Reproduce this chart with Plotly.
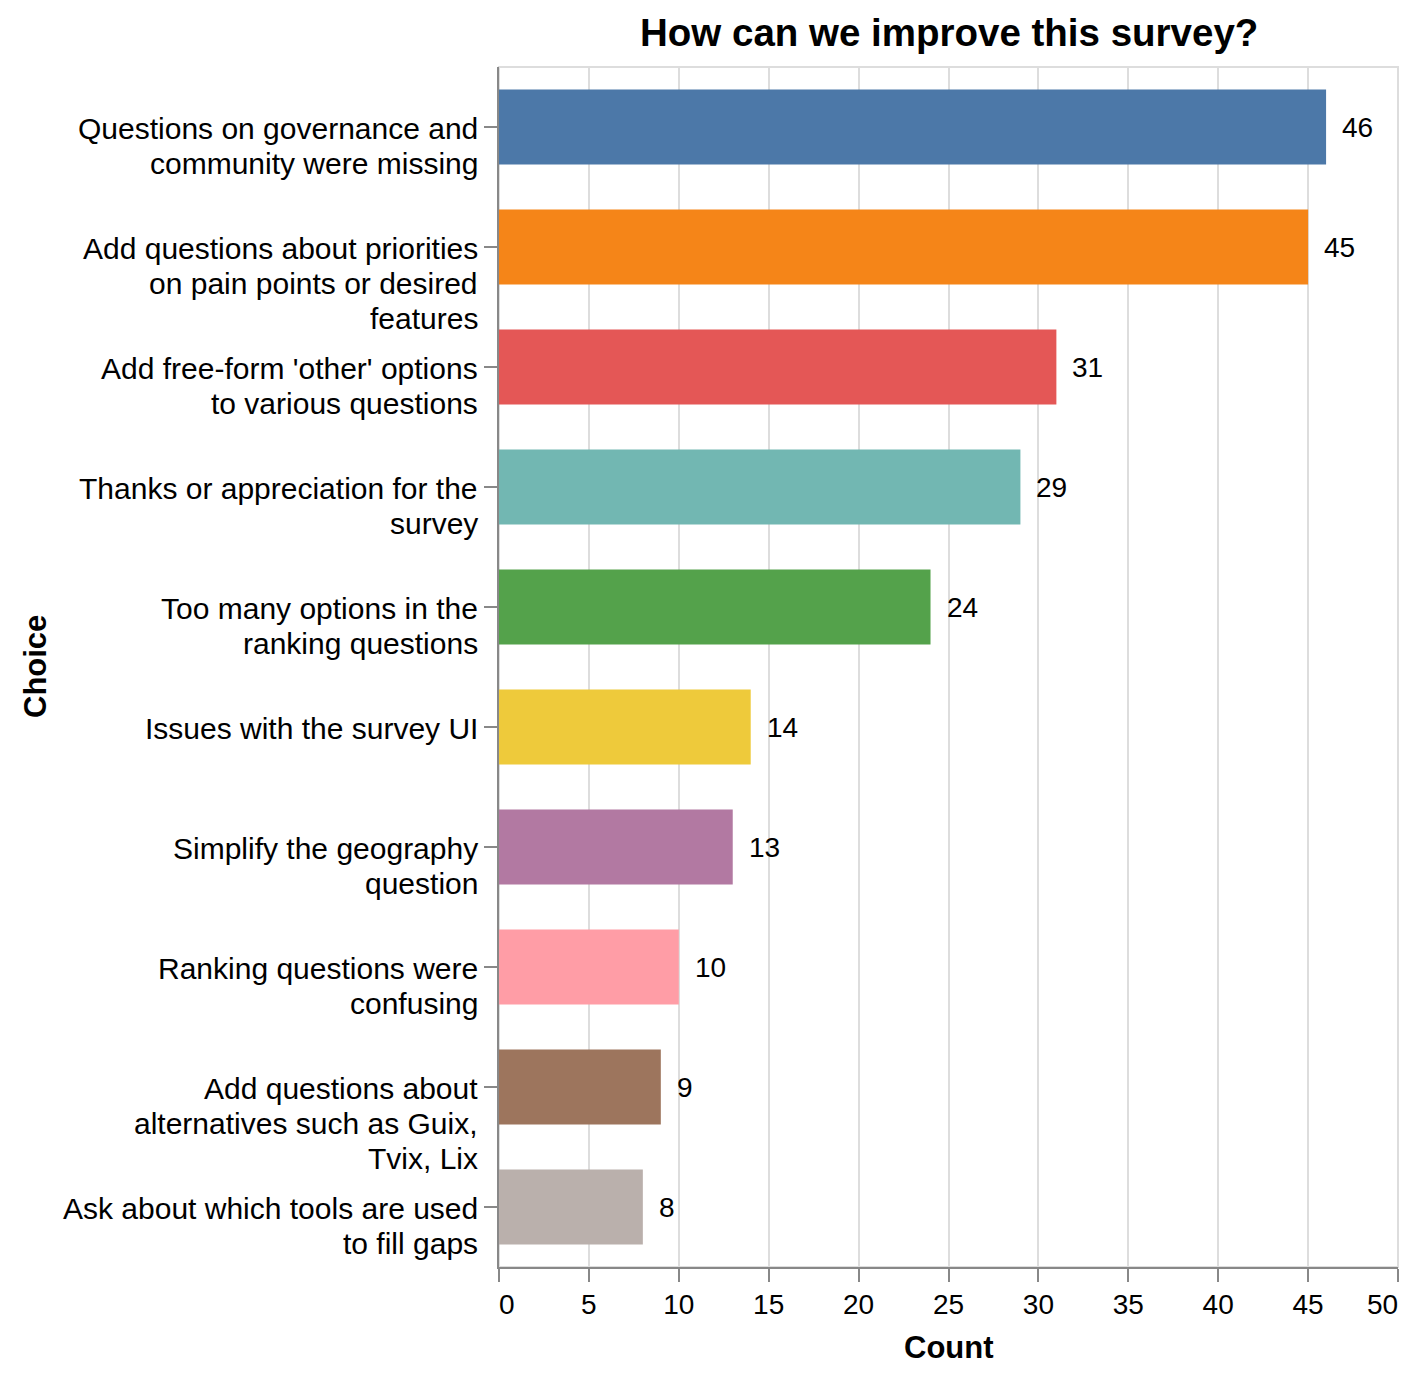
import plotly.graph_objects as go

choices = [
    "Questions on governance and<br>community were missing",
    "Add questions about priorities<br>on pain points or desired<br>features",
    "Add free-form 'other' options<br>to various questions",
    "Thanks or appreciation for the<br>survey",
    "Too many options in the<br>ranking questions",
    "Issues with the survey UI",
    "Simplify the geography<br>question",
    "Ranking questions were<br>confusing",
    "Add questions about<br>alternatives such as Guix,<br>Tvix, Lix",
    "Ask about which tools are used<br>to fill gaps",
]
counts = [46, 45, 31, 29, 24, 14, 13, 10, 9, 8]
colors = ["#4c78a8", "#f58518", "#e45756", "#72b7b2", "#54a24b",
          "#eeca3b", "#b279a2", "#ff9da6", "#9d755d", "#bab0ac"]
x_ticks = [0, 5, 10, 15, 20, 25, 30, 35, 40, 45, 50]

# page has an 8px body margin; figure coordinates are page coords - 8
W, H = 1408, 1369
L, R, T, B = 491, 18, 59, 110
FONT = "Liberation Sans, Arial, sans-serif"
PH = H - T - B
PW = W - L - R

fig = go.Figure()
fig.add_trace(go.Bar(
    x=counts, y=choices, orientation="h",
    marker=dict(color=colors, line=dict(width=0)),
    hoverinfo="x+y", showlegend=False,
))

annotations = []
# y tick labels: first line at tick, other lines below
for c in choices:
    lines = c.split("<br>")
    for i, ln in enumerate(lines):
        annotations.append(dict(
            x=0, xref="paper", y=c, yref="y", text=ln, showarrow=False,
            xanchor="right", yanchor="middle", xshift=-19, yshift=-35 * i - 1,
            font=dict(family=FONT, size=30, color="#000"),
        ))
# value labels
for c, v in zip(choices, counts):
    annotations.append(dict(
        x=v, xref="x", y=c, yref="y", text=str(v), showarrow=False,
        xanchor="left", yanchor="middle", xshift=14,
        font=dict(family=FONT, size=28, color="#000"),
    ))
# flush first/last x tick labels
label_y = -(1304 - 8 - (H - B)) / PH
for t, anchor, sh in [(x_ticks[0], "left", -2), (x_ticks[-1], "right", 2)]:
    annotations.append(dict(
        x=t, xref="x", y=label_y, yref="paper", text=str(t), showarrow=False,
        xanchor=anchor, yanchor="middle", xshift=sh,
        font=dict(family=FONT, size=28, color="#000"),
    ))
# axis titles
annotations.append(dict(
    x=0.5, xref="paper", y=-(1339 - (H - B)) / PH, yref="paper",
    text="<b>Count</b>", showarrow=False,
    font=dict(family=FONT, size=31, color="#000"), xanchor="center", yanchor="middle",
))
annotations.append(dict(
    x=(27 - L) / PW, xref="paper", y=0.5, yref="paper", text="<b>Choice</b>",
    showarrow=False, textangle=-90,
    font=dict(family=FONT, size=31, color="#000"), xanchor="center", yanchor="middle",
))
annotations.append(dict(
    x=0.5, xref="paper", y=1 + (T - 24) / PH, yref="paper",
    text="<b>How can we improve this survey?</b>", showarrow=False,
    font=dict(family=FONT, size=38.5, color="#000"),
    xanchor="center", yanchor="middle",
))

tick_text = [str(t) for t in x_ticks]
tick_text[0] = ""
tick_text[-1] = ""

fig.update_layout(
    width=W, height=H,
    margin=dict(l=L, r=R, t=T, b=B, autoexpand=False),
    paper_bgcolor="white", plot_bgcolor="white",
    bargap=0.375,
    font=dict(family=FONT, color="#000"),
    annotations=annotations,
    shapes=[dict(type="rect", xref="paper", yref="paper", x0=0, x1=1, y0=0, y1=1,
                 line=dict(color="#dddddd", width=2), layer="below")],
    xaxis=dict(
        range=[0, 50], tickvals=x_ticks, ticktext=tick_text,
        showgrid=True, gridcolor="#dddddd", gridwidth=2,
        showline=True, linecolor="#888888", linewidth=2,
        ticks="outside", ticklen=13, tickwidth=2, tickcolor="#888888",
        ticklabelstandoff=-2,
        tickfont=dict(family=FONT, size=28, color="#000"),
        zeroline=False, fixedrange=True,
    ),
    yaxis=dict(
        categoryorder="array", categoryarray=choices, autorange="reversed",
        showticklabels=False, showgrid=False,
        showline=True, linecolor="#888888", linewidth=2,
        ticks="outside", ticklen=13, tickwidth=2, tickcolor="#888888",
        zeroline=False, fixedrange=True,
    ),
)

fig.write_html("out.html")
